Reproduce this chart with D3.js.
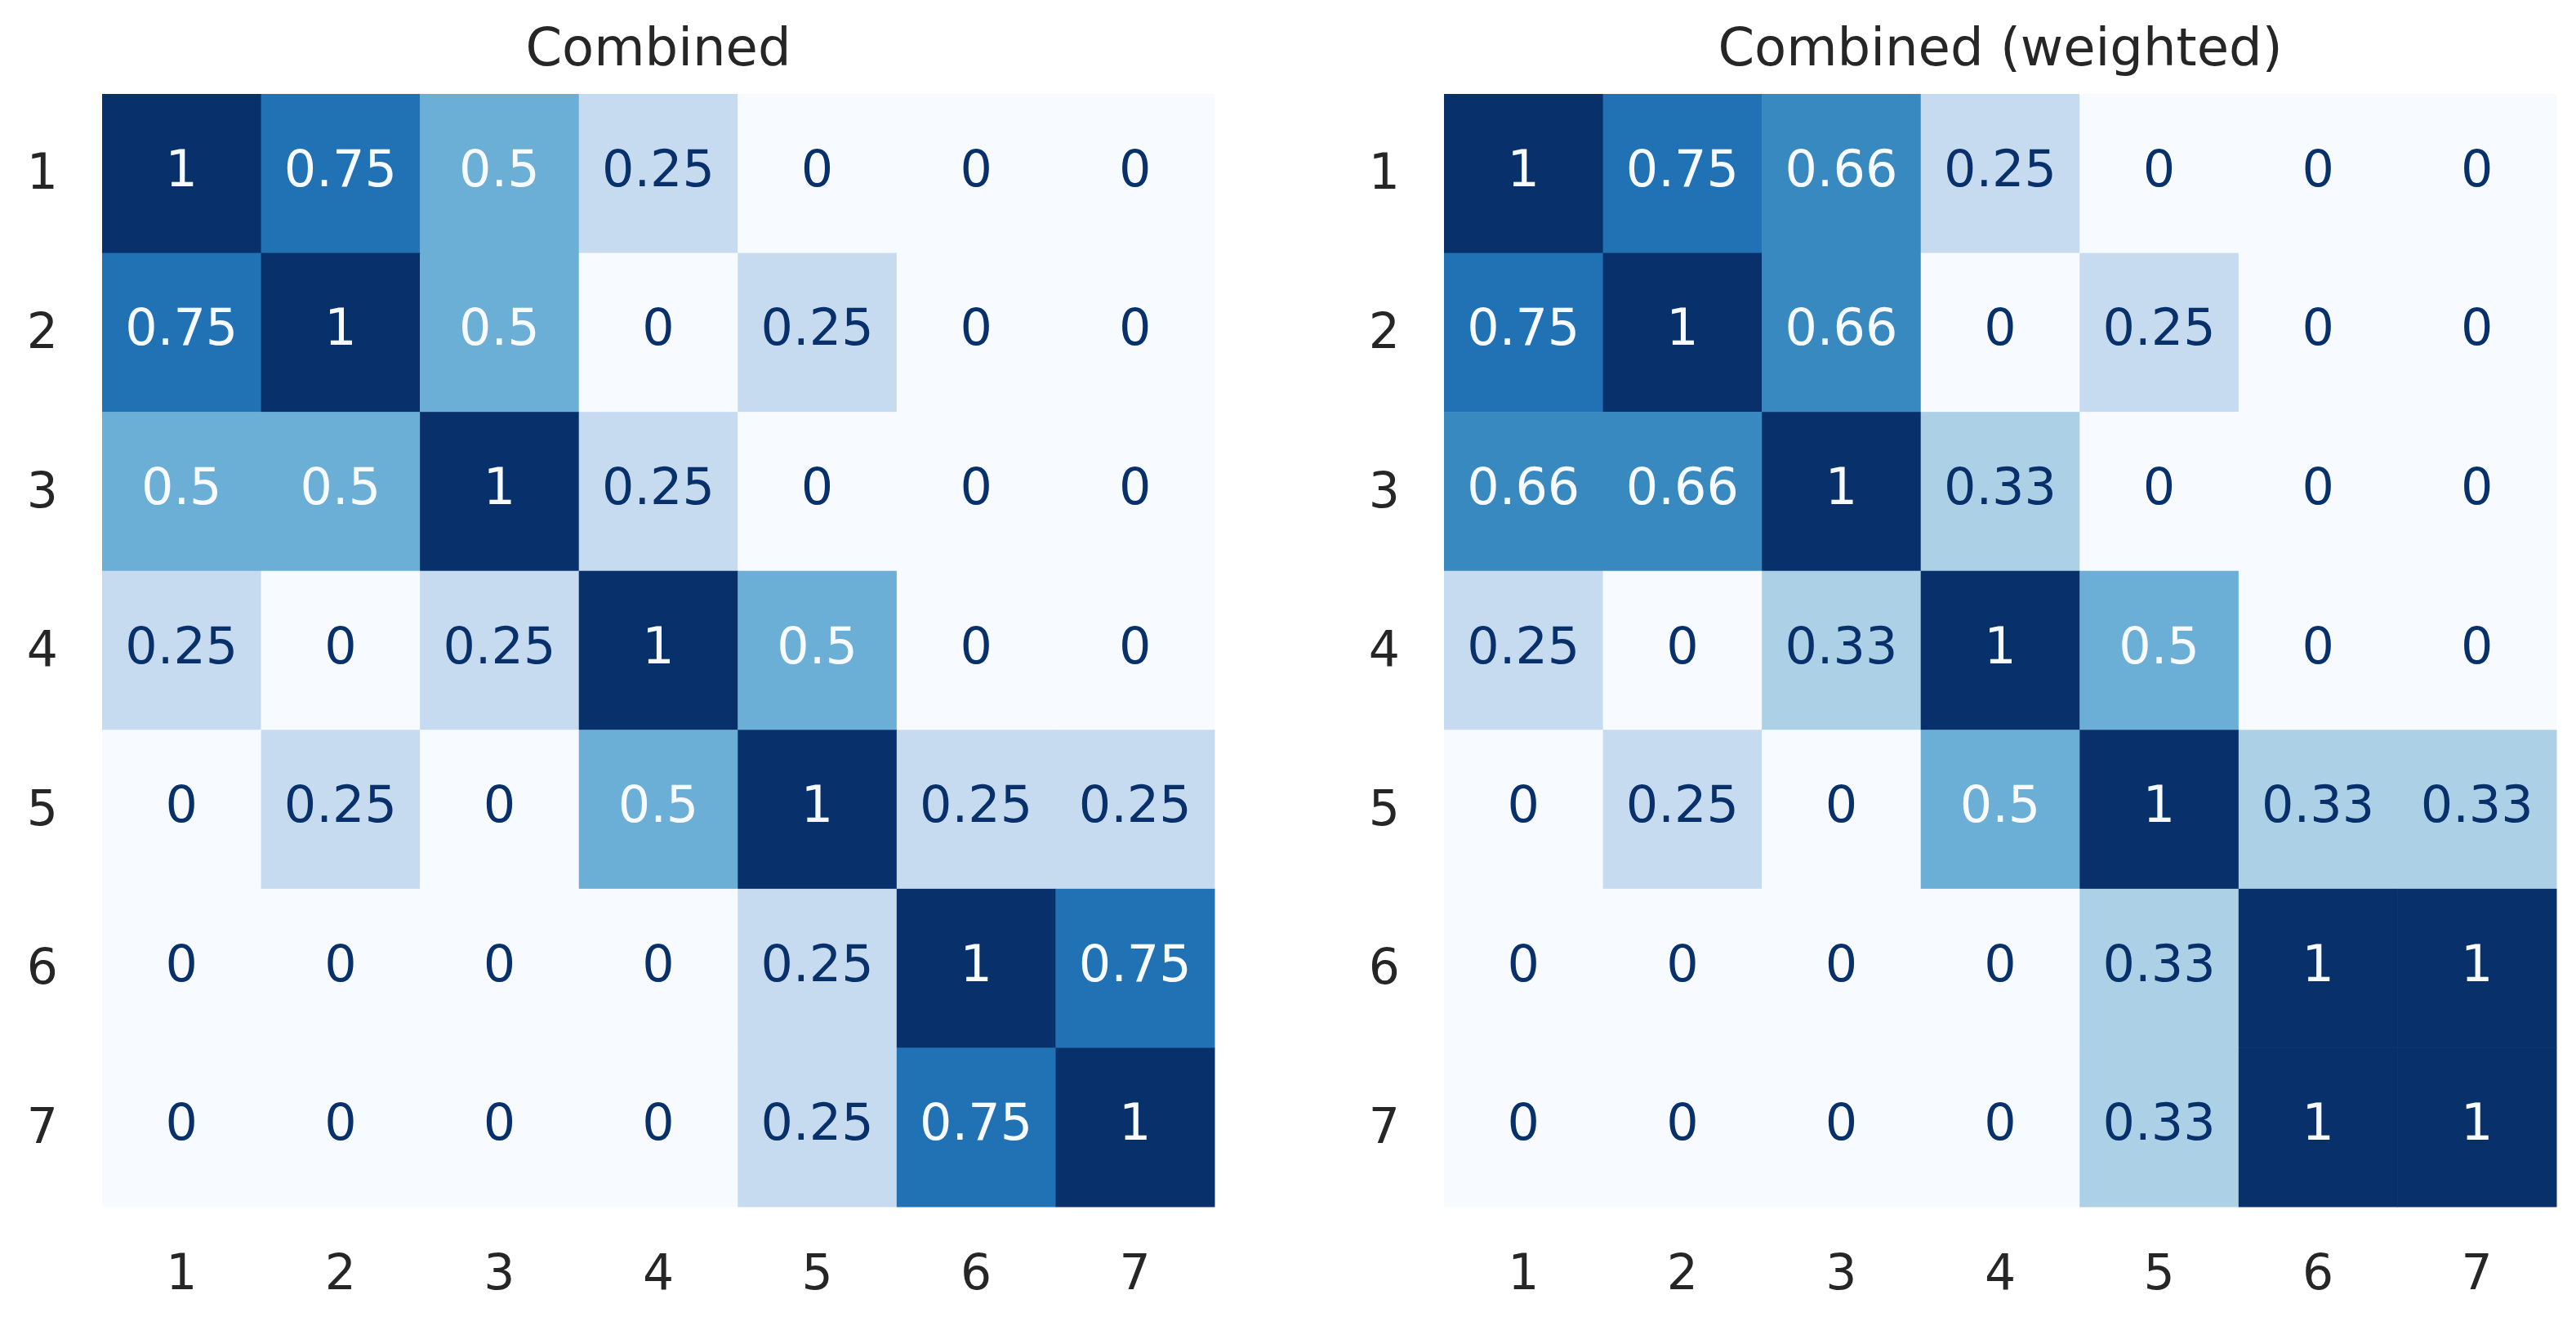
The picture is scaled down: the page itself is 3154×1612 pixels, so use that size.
<!DOCTYPE html>
<html>
<head>
<meta charset="utf-8">
<script src="https://cdn.jsdelivr.net/npm/d3@7"></script>
<style>
  body { margin: 0; background: #ffffff; }
  svg text { font-family: "DejaVu Sans", sans-serif; }
</style>
</head>
<body>
<div id="chart"></div>
<script>
// tick labels, shared by both panels
const labels = ["1", "2", "3", "4", "5", "6", "7"];

const titles = ["Combined", "Combined (weighted)"];

// cell values, row by row
const combined = [
    [1, 0.75, 0.5, 0.25, 0, 0, 0],
    [0.75, 1, 0.5, 0, 0.25, 0, 0],
    [0.5, 0.5, 1, 0.25, 0, 0, 0],
    [0.25, 0, 0.25, 1, 0.5, 0, 0],
    [0, 0.25, 0, 0.5, 1, 0.25, 0.25],
    [0, 0, 0, 0, 0.25, 1, 0.75],
    [0, 0, 0, 0, 0.25, 0.75, 1]
];

const weighted = [
    [1, 0.75, 0.66, 0.25, 0, 0, 0],
    [0.75, 1, 0.66, 0, 0.25, 0, 0],
    [0.66, 0.66, 1, 0.33, 0, 0, 0],
    [0.25, 0, 0.33, 1, 0.5, 0, 0],
    [0, 0.25, 0, 0.5, 1, 0.33, 0.33],
    [0, 0, 0, 0, 0.33, 1, 1],
    [0, 0, 0, 0, 0.33, 1, 1]
];

// matplotlib "Blues" stops
const blues = ["#f7fbff", "#deebf7", "#c6dbef", "#9ecae1", "#6baed6",
               "#4292c6", "#2171b5", "#08519c", "#08306b"];

const width = 3154, height = 1612;
const panelLeft = [125, 1768];
const gridTop = 115, gridSize = 1362;

const color = d3.scaleLinear()
    .domain(blues.map((d, i) => i / (blues.length - 1)))
    .range(blues)
    .interpolate(d3.interpolateRgb)
    .clamp(true);

// same rule seaborn uses to pick annotation colour
function luminance(c) {
    const rgb = d3.rgb(c);
    const lin = v => {
        v = v / 255;
        return v <= 0.03928 ? v / 12.92 : Math.pow((v + 0.055) / 1.055, 2.4);
    };
    return 0.2126 * lin(rgb.r) + 0.7152 * lin(rgb.g) + 0.0722 * lin(rgb.b);
}

const svg = d3.select("#chart").append("svg")
    .attr("width", width)
    .attr("height", height);

function drawPanel(matrix, title, left) {
    const x = d3.scaleBand().domain(labels).range([left, left + gridSize]);
    const y = d3.scaleBand().domain(labels).range([gridTop, gridTop + gridSize]);

    const g = svg.append("g");

    const cells = [];
    matrix.forEach((row, i) => row.forEach((v, j) => {
        cells.push({ row: labels[i], col: labels[j], value: v });
    }));

    g.selectAll("rect")
        .data(cells)
        .enter().append("rect")
        .attr("x", d => x(d.col))
        .attr("y", d => y(d.row))
        .attr("width", x.bandwidth() + 0.5)
        .attr("height", y.bandwidth() + 0.5)
        .attr("fill", d => color(d.value));

    g.selectAll("text.annot")
        .data(cells)
        .enter().append("text")
        .attr("class", "annot")
        .attr("x", d => x(d.col) + x.bandwidth() / 2)
        .attr("y", d => y(d.row) + y.bandwidth() / 2)
        .attr("dy", "0.25em")
        .attr("text-anchor", "middle")
        .style("font-size", "62px")
        .attr("fill", d => luminance(color(d.value)) > 0.408 ? "#08306b" : "#f7fbff")
        .text(d => d3.format("~g")(d.value));

    // axes, ticks hidden like seaborn
    const xAxis = g.append("g")
        .attr("transform", `translate(0,${gridTop + gridSize})`)
        .call(d3.axisBottom(x).tickSize(0).tickPadding(58));
    const yAxis = g.append("g")
        .attr("transform", `translate(${left},0)`)
        .call(d3.axisLeft(y).tickSize(0).tickPadding(54));

    [xAxis, yAxis].forEach(a => {
        a.select(".domain").remove();
        a.selectAll("text")
            .style("font-size", "60px")
            .style("font-family", "DejaVu Sans, sans-serif")
            .attr("fill", "#262626");
    });

    g.append("text")
        .attr("x", left + gridSize / 2)
        .attr("y", 80)
        .attr("text-anchor", "middle")
        .style("font-size", "64px")
        .attr("fill", "#262626")
        .text(title);
}

drawPanel(combined, titles[0], panelLeft[0]);
drawPanel(weighted, titles[1], panelLeft[1]);
</script>
</body>
</html>
